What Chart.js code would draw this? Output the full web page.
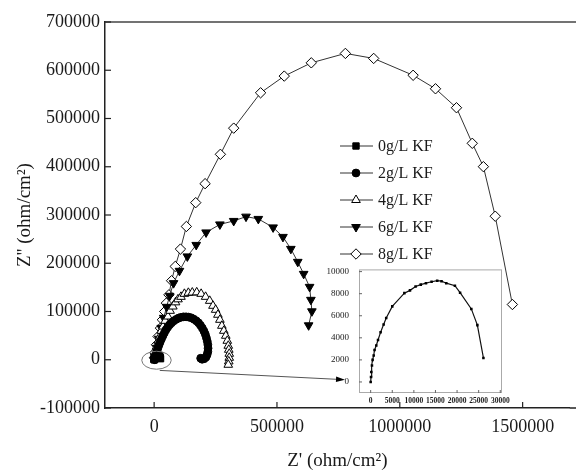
<!DOCTYPE html>
<html>
<head>
<meta charset="utf-8">
<script src="https://cdn.jsdelivr.net/npm/chart.js@4.4.0/dist/chart.umd.min.js"></script>
<style>
  body { margin: 0; background: #fff; }
  #wrap { position: relative; width: 576px; height: 474px; }
  #mainChart { position: absolute; left: 0; top: 0; }
  #insetChart { position: absolute; left: 318px; top: 262px; }
</style>
</head>
<body>
<div id="wrap">
  <canvas id="mainChart" width="576" height="474"></canvas>
  <canvas id="insetChart" width="196" height="152"></canvas>
</div>
<script>
const seriesLabels = ["0g/L KF", "2g/L KF", "4g/L KF", "6g/L KF", "8g/L KF"];

// 0g/L KF (the same curve is shown enlarged in the inset)
const kf0X = [0, 80, 150, 300, 450, 700, 900, 1300, 1700, 2300, 3000, 3600, 5000, 7800, 9100, 10400, 11600, 12800, 14100, 15400, 16400, 17500, 19500, 20700, 23300, 24700, 26100];
const kf0Y = [0, 450, 900, 1500, 2000, 2400, 2900, 3300, 3800, 4500, 5200, 5800, 6850, 8050, 8300, 8650, 8820, 8950, 9080, 9180, 9130, 8950, 8720, 8090, 6620, 5150, 2180];

// 2g/L KF
const kf2X = [2800, 4800, 8000, 11600, 15700, 20100, 24900, 30100, 35700, 41700, 48200, 55000, 63000, 71000, 80300, 89900, 99100, 109200, 119200, 130000, 140500, 151300, 161300, 171400, 180600, 188600, 196200, 202700, 208300, 212700, 216300, 218700, 219500, 218700, 215500, 210700, 203500, 195400, 189400];
const kf2Y = [0, 6200, 12400, 18600, 24800, 31100, 37300, 43500, 49700, 55900, 62100, 67300, 72500, 76600, 80700, 83800, 86300, 88000, 89000, 89000, 88400, 86900, 84200, 80700, 76600, 71400, 65600, 59400, 52800, 45500, 38300, 31100, 23800, 16600, 10400, 5200, 2100, 1000, 3100];

// 4g/L KF
const kf4X = [2800, 9600, 16900, 22900, 28900, 36100, 44900, 56200, 65000, 76200, 87100, 97100, 109200, 123200, 139300, 155300, 173400, 191400, 209500, 226300, 239600, 250400, 259600, 267700, 275700, 283700, 291700, 297800, 301800, 303800, 305800, 305800, 303800, 301800];
const kf4Y = [8300, 26900, 39300, 48200, 60000, 68900, 80700, 89600, 101400, 110300, 119000, 125200, 130400, 136600, 138700, 139300, 139700, 136600, 130400, 122100, 111800, 103500, 93200, 82800, 70400, 60000, 49700, 39300, 29000, 20700, 12400, 4100, -3500, -10400];

// 6g/L KF
const kf6X = [1500, 2800, 10800, 18900, 28900, 38900, 50900, 63000, 79000, 103100, 135200, 171300, 211400, 267700, 323900, 374000, 424100, 484300, 524400, 556500, 584600, 608700, 632800, 638100, 642100, 628900];
const kf6Y = [1500, 6200, 24800, 43500, 66200, 86900, 109700, 132500, 158800, 184300, 214200, 238000, 263900, 280500, 287700, 296600, 291900, 274300, 254600, 229800, 202900, 178000, 151100, 124200, 100400, 71400];

// 8g/L KF
const kf8X = [1200, 2800, 9600, 16000, 25700, 33700, 42900, 49700, 60200, 71000, 85900, 107100, 131200, 169300, 207400, 269700, 323900, 433400, 529700, 639700, 778500, 893700, 1054200, 1145300, 1230800, 1295000, 1340300, 1388500, 1458300];
const kf8Y = [4000, 14500, 31000, 48200, 65600, 82800, 100000, 117400, 134600, 163800, 193400, 229400, 276200, 325600, 364900, 425800, 480000, 553300, 587900, 615400, 634900, 624500, 589600, 561600, 522300, 448600, 400200, 297500, 114500];

const xTicks = [0, 500000, 1000000, 1500000];
const yTicks = [-100000, 0, 100000, 200000, 300000, 400000, 500000, 600000, 700000];
const insetXTicks = [0, 5000, 10000, 15000, 20000, 25000, 30000];
const insetYTicks = [0, 2000, 4000, 6000, 8000, 10000];

// ellipse round the origin and the arrow to the inset, in data units
const zoomMark = { x: 9600, y: -1000, rx: 60000, ry: 18600 };
const arrowFrom = [22900, -22100];
const arrowTo = [777000, -41400];

const serif = "'Liberation Serif', 'Times New Roman', serif";
const ink = "#1a1a1a";

function toPoints(xs, ys) {
  return xs.map((x, i) => ({ x: x, y: ys[i] }));
}

const markers = [
  { style: "rect", rotation: 0, radius: 4.5, fill: "#000" },
  { style: "circle", rotation: 0, radius: 3.9, fill: "#000" },
  { style: "triangle", rotation: 0, radius: 5, fill: "#fff" },
  { style: "triangle", rotation: 180, radius: 5, fill: "#000" },
  { style: "rectRot", rotation: 0, radius: 5.2, fill: "#fff" }
];

const seriesData = [
  toPoints(kf0X, kf0Y),
  toPoints(kf2X, kf2Y),
  toPoints(kf4X, kf4Y),
  toPoints(kf6X, kf6Y),
  toPoints(kf8X, kf8Y)
];

const datasets = seriesData.map((pts, i) => ({
  label: seriesLabels[i],
  data: pts,
  showLine: true,
  borderColor: "#333",
  borderWidth: 1,
  pointStyle: markers[i].style,
  rotation: markers[i].rotation,
  pointRadius: markers[i].radius,
  pointBackgroundColor: markers[i].fill,
  pointBorderColor: "#000",
  pointBorderWidth: 1
}));

function drawMarker(ctx, m, x, y) {
  ctx.save();
  ctx.fillStyle = m.fill;
  ctx.strokeStyle = "#000";
  ctx.lineWidth = 1;
  ctx.beginPath();
  const r = m.radius;
  if (m.style === "circle") {
    ctx.arc(x, y, r, 0, Math.PI * 2);
  } else if (m.style === "rect") {
    const s = r * Math.SQRT1_2;
    ctx.rect(x - s, y - s, 2 * s, 2 * s);
  } else if (m.style === "rectRot") {
    ctx.moveTo(x, y - r); ctx.lineTo(x + r, y); ctx.lineTo(x, y + r); ctx.lineTo(x - r, y);
    ctx.closePath();
  } else {
    const rad = m.rotation * Math.PI / 180;
    for (let k = 0; k < 3; k++) {
      const a = rad + k * 2 * Math.PI / 3;
      const px = x + Math.sin(a) * r, py = y - Math.cos(a) * r;
      if (k === 0) ctx.moveTo(px, py); else ctx.lineTo(px, py);
    }
    ctx.closePath();
  }
  ctx.fill();
  ctx.stroke();
  ctx.restore();
}

const mainDecor = {
  id: "mainDecor",
  afterDraw(chart) {
    const ctx = chart.ctx;
    const a = chart.chartArea;
    const xs = chart.scales.x, ys = chart.scales.y;
    ctx.save();
    // top frame line
    ctx.strokeStyle = "#444";
    ctx.lineWidth = 1.5;
    ctx.beginPath();
    ctx.moveTo(a.left, a.top);
    ctx.lineTo(chart.width, a.top);
    ctx.stroke();
    // bottom axis runs to the edge too
    ctx.strokeStyle = "#222";
    ctx.beginPath();
    ctx.moveTo(a.right, a.bottom);
    ctx.lineTo(chart.width, a.bottom);
    ctx.stroke();
    // inward ticks
    ctx.lineWidth = 1.2;
    xTicks.forEach(v => {
      const px = xs.getPixelForValue(v);
      ctx.beginPath(); ctx.moveTo(px, a.bottom); ctx.lineTo(px, a.bottom - 6); ctx.stroke();
    });
    yTicks.forEach(v => {
      const py = ys.getPixelForValue(v);
      ctx.beginPath(); ctx.moveTo(a.left, py); ctx.lineTo(a.left + 6, py); ctx.stroke();
    });
    // ellipse and arrow
    const cx = xs.getPixelForValue(zoomMark.x), cy = ys.getPixelForValue(zoomMark.y);
    const rx = xs.getPixelForValue(zoomMark.x + zoomMark.rx) - cx;
    const ry = cy - ys.getPixelForValue(zoomMark.y + zoomMark.ry);
    ctx.strokeStyle = "#777";
    ctx.lineWidth = 1;
    ctx.beginPath();
    ctx.ellipse(cx, cy, rx, ry, 0, 0, Math.PI * 2);
    ctx.stroke();
    const x1 = xs.getPixelForValue(arrowFrom[0]), y1 = ys.getPixelForValue(arrowFrom[1]);
    const x2 = xs.getPixelForValue(arrowTo[0]), y2 = ys.getPixelForValue(arrowTo[1]);
    const ang = Math.atan2(y2 - y1, x2 - x1);
    ctx.strokeStyle = "#555";
    ctx.beginPath(); ctx.moveTo(x1, y1); ctx.lineTo(x2 - 8 * Math.cos(ang), y2 - 8 * Math.sin(ang)); ctx.stroke();
    ctx.fillStyle = "#000";
    ctx.beginPath();
    ctx.moveTo(x2, y2);
    ctx.lineTo(x2 - 9 * Math.cos(ang) + 2.8 * Math.sin(ang), y2 - 9 * Math.sin(ang) - 2.8 * Math.cos(ang));
    ctx.lineTo(x2 - 9 * Math.cos(ang) - 2.8 * Math.sin(ang), y2 - 9 * Math.sin(ang) + 2.8 * Math.cos(ang));
    ctx.closePath();
    ctx.fill();
    // legend
    const lx = 340, rowTop = 146, rowGap = 27;
    ctx.font = "16px " + serif;
    ctx.textBaseline = "middle";
    chart.data.datasets.forEach((ds, i) => {
      const y = rowTop + i * rowGap;
      ctx.strokeStyle = "#333";
      ctx.lineWidth = 1;
      ctx.beginPath(); ctx.moveTo(lx, y); ctx.lineTo(lx + 33, y); ctx.stroke();
      drawMarker(ctx, markers[i], lx + 16, y);
      ctx.fillStyle = ink;
      ctx.fillText(ds.label, lx + 38, y + 1);
    });
    ctx.restore();
  }
};

new Chart(document.getElementById("mainChart"), {
  type: "scatter",
  data: { datasets: datasets },
  options: {
    responsive: false,
    devicePixelRatio: 1,
    animation: false,
    events: [],
    layout: { padding: { top: 22, right: 0, left: 0, bottom: 0 } },
    plugins: { legend: { display: false }, tooltip: { enabled: false } },
    scales: {
      x: {
        type: "linear",
        min: -200000,
        max: 1692000,
        afterFit: s => { s.height = 66; },
        afterBuildTicks: s => { s.ticks = xTicks.map(v => ({ value: v })); },
        grid: { drawOnChartArea: false, drawTicks: false },
        border: { display: true, color: "#222", width: 1.5 },
        ticks: { color: ink, padding: 8, font: { family: serif, size: 18 }, callback: v => String(v) },
        title: { display: true, text: "Z' (ohm/cm²)", color: ink, font: { family: serif, size: 19 }, padding: { top: 0, bottom: 2 } }
      },
      y: {
        type: "linear",
        min: -100000,
        max: 700000,
        afterFit: s => { s.width = 105; },
        afterBuildTicks: s => { s.ticks = yTicks.map(v => ({ value: v })); },
        grid: { drawOnChartArea: false, drawTicks: false },
        border: { display: true, color: "#222", width: 1.5 },
        ticks: { color: ink, padding: 5, font: { family: serif, size: 18 }, callback: v => String(v) },
        title: { display: true, text: "Z'' (ohm/cm²)", color: ink, font: { family: serif, size: 19 }, padding: { top: 14, bottom: 0 } }
      }
    }
  },
  plugins: [mainDecor]
});

const insetFrame = {
  id: "insetFrame",
  beforeDraw(chart) {
    const a = chart.chartArea;
    chart.ctx.save();
    chart.ctx.fillStyle = "#fff";
    chart.ctx.fillRect(a.left, a.top, a.right - a.left, a.bottom - a.top);
    chart.ctx.restore();
  },
  afterDraw(chart) {
    const ctx = chart.ctx;
    const a = chart.chartArea;
    ctx.save();
    ctx.strokeStyle = "#aaa";
    ctx.lineWidth = 1;
    ctx.strokeRect(a.left + 0.5, a.top + 0.5, a.right - a.left - 1, a.bottom - a.top - 1);
    ctx.strokeStyle = "#666";
    insetXTicks.forEach(v => {
      const px = chart.scales.x.getPixelForValue(v);
      ctx.beginPath(); ctx.moveTo(px, a.bottom); ctx.lineTo(px, a.bottom - 3); ctx.stroke();
    });
    insetYTicks.forEach(v => {
      const py = chart.scales.y.getPixelForValue(v);
      ctx.beginPath(); ctx.moveTo(a.left, py); ctx.lineTo(a.left + 3, py); ctx.stroke();
    });
    ctx.restore();
  }
};

new Chart(document.getElementById("insetChart"), {
  type: "scatter",
  data: {
    datasets: [{
      label: seriesLabels[0],
      data: toPoints(kf0X, kf0Y),
      showLine: true,
      borderColor: "#111",
      borderWidth: 1.2,
      pointStyle: "rect",
      pointRadius: 1.8,
      pointBackgroundColor: "#000",
      pointBorderColor: "#000",
      pointBorderWidth: 0
    }]
  },
  options: {
    responsive: false,
    devicePixelRatio: 1,
    animation: false,
    events: [],
    layout: { padding: { top: 7, right: 12, left: 0, bottom: 0 } },
    plugins: { legend: { display: false }, tooltip: { enabled: false } },
    scales: {
      x: {
        type: "linear",
        min: -2700,
        max: 30400,
        afterFit: s => { s.height = 21; },
        afterBuildTicks: s => { s.ticks = insetXTicks.map(v => ({ value: v })); },
        grid: { display: false },
        border: { display: false },
        ticks: { color: ink, padding: -4, maxRotation: 0, autoSkip: false, font: { family: serif, size: 7.5, weight: "bold" }, callback: v => String(v) }
      },
      y: {
        type: "linear",
        min: -1000,
        max: 10200,
        afterFit: s => { s.width = 41; },
        afterBuildTicks: s => { s.ticks = insetYTicks.map(v => ({ value: v })); },
        grid: { display: false },
        border: { display: false },
        ticks: { color: ink, padding: 2, font: { family: serif, size: 9 }, callback: v => String(v) }
      }
    }
  },
  plugins: [insetFrame]
});
</script>
</body>
</html>
